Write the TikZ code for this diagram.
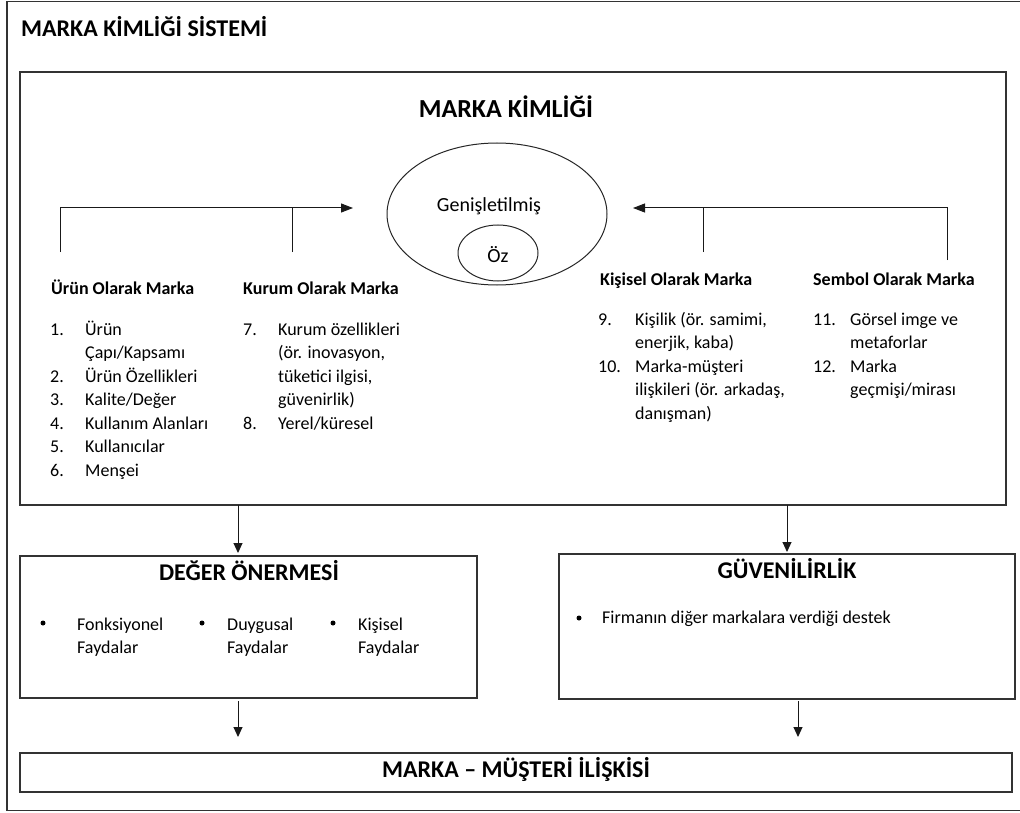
\documentclass[tikz,border=0pt]{standalone}
\usepackage{fontspec}
\setmainfont{Carlito}
\usetikzlibrary{arrows.meta,shapes.geometric}
\begin{document}
\begin{tikzpicture}[x=1pt,y=-1pt,
  panel/.style={draw=black!80, line width=1.5pt, inner sep=0pt, outer sep=0pt, anchor=north west},
  conn/.style={draw=black!90, line width=1pt},
  toparr/.style={conn, -{Triangle[length=12pt,width=9pt]}},
  downarr/.style={conn, -{Triangle[length=10pt,width=9pt]}},
  oval/.style={draw=black!85, line width=1pt, ellipse, inner sep=0pt},
  bigtxt/.style={font=\bfseries\fontsize{24}{28}\selectfont, inner sep=0pt, anchor=base},
  headtxt/.style={font=\bfseries\fontsize{18}{22}\selectfont, inner sep=0pt, anchor=base west},
  bodytxt/.style={font=\fontsize{18}{23.5}\selectfont, inner sep=0pt, anchor=base west},
  dot/.style={circle, fill=black, inner sep=0pt, minimum size=5pt}
]
\clip (0,0) rectangle (1020,813);

% outer frame and the five boxes
\node[panel, minimum width=1040pt, minimum height=809pt] (frame) at (7,1.5) {};
\node[panel, minimum width=986pt, minimum height=433pt] (ident) at (20,72) {};
\node[panel, minimum width=457pt, minimum height=142pt] (deger) at (20,556) {};
\node[panel, minimum width=456pt, minimum height=145pt] (guven) at (559,554) {};
\node[panel, minimum width=992pt, minimum height=39pt] (iliski) at (20,753) {};

% titles
\node[bigtxt, anchor=base west] (title) at (21,37) {MARKA KİMLİĞİ SİSTEMİ};
\node[bigtxt, font=\bfseries\fontsize{26}{30}\selectfont] (idtitle) at (506,118) {MARKA KİMLİĞİ};
\node[bigtxt] (degertitle) at (249,580) {DEĞER ÖNERMESİ};
\node[bigtxt] (guventitle) at (787,578) {GÜVENİLİRLİK};
\node[bigtxt] (iliskititle) at (516,777) {MARKA – MÜŞTERİ İLİŞKİSİ};

% core and extended identity
\node[oval, minimum width=220pt, minimum height=142pt] (genis) at (497,214) {};
\node[oval, minimum width=80pt, minimum height=56pt] (oz) at (498,253) {};
\node[font=\fontsize{20}{24}\selectfont, inner sep=0pt, anchor=base] (genistxt) at (489,212) {Genişletilmiş};
\node[font=\fontsize{20}{24}\selectfont, inner sep=0pt, anchor=base] (oztxt) at (498,262) {Öz};

% four perspectives
\node[headtxt] (urunH) at (51,294) {Ürün Olarak Marka};
\node[headtxt] (kurumH) at (243,294) {Kurum Olarak Marka};
\node[headtxt] (kisiH) at (600,285) {Kişisel Olarak Marka};
\node[headtxt] (sembolH) at (813,285) {Sembol Olarak Marka};

\node[bodytxt] (urunL) at (50,335) {\begin{tabular}[t]{@{}p{35pt}@{}l@{}}
1. & Ürün\\
   & Çapı/Kapsamı\\
2. & Ürün Özellikleri\\
3. & Kalite/Değer\\
4. & Kullanım Alanları\\
5. & Kullanıcılar\\
6. & Menşei
\end{tabular}};
\node[bodytxt] (kurumL) at (243,335) {\begin{tabular}[t]{@{}p{35pt}@{}l@{}}
7. & Kurum özellikleri\\
   & (ör. inovasyon,\\
   & tüketici ilgisi,\\
   & güvenirlik)\\
8. & Yerel/küresel
\end{tabular}};
\node[bodytxt] (kisiL) at (598,325) {\begin{tabular}[t]{@{}p{37pt}@{}l@{}}
9.  & Kişilik (ör. samimi,\\
    & enerjik, kaba)\\
10. & Marka-müşteri\\
    & ilişkileri (ör. arkadaş,\\
    & danışman)
\end{tabular}};
\node[bodytxt] (sembolL) at (813,325) {\begin{tabular}[t]{@{}p{37pt}@{}l@{}}
11. & Görsel imge ve\\
    & metaforlar\\
12. & Marka\\
    & geçmişi/mirası
\end{tabular}};

% connectors feeding the identity ovals
\coordinate (urunS) at (60,252);
\coordinate (kurumS) at (292,252);
\coordinate (leftT) at (353,208);
\coordinate (kisiS) at (703,252);
\coordinate (sembolS) at (947,260);
\coordinate (rightT) at (633,208);
\draw[toparr] (urunS) |- (leftT);
\draw[conn] (kurumS) -- (kurumS |- leftT);
\draw[toparr] (sembolS) |- (rightT);
\draw[conn] (kisiS) -- (kisiS |- rightT);

% value proposition items
\node[dot] (b1) at (43,623) {};
\node[dot] (b2) at (202,623) {};
\node[dot] (b3) at (333,623) {};
\node[bodytxt, font=\fontsize{18}{23}\selectfont] (fonk) at (77,630) {\begin{tabular}[t]{@{}l@{}}Fonksiyonel\\Faydalar\end{tabular}};
\node[bodytxt, font=\fontsize{18}{23}\selectfont] (duyg) at (227,630) {\begin{tabular}[t]{@{}l@{}}Duygusal\\Faydalar\end{tabular}};
\node[bodytxt, font=\fontsize{18}{23}\selectfont] (kisis) at (358,630) {\begin{tabular}[t]{@{}l@{}}Kişisel\\Faydalar\end{tabular}};

% credibility item
\node[dot] (b4) at (579,618) {};
\node[bodytxt] (destek) at (602,623) {Firmanın diğer markalara verdiği destek};

% flow downwards
\coordinate (xL) at (238,0);
\coordinate (xR) at (787,0);
\coordinate (xR2) at (798,0);
\draw[downarr, shorten >=3pt] (ident.south -| xL) -- (deger.north -| xL);
\draw[downarr, shorten >=2pt] (ident.south -| xR) -- (guven.north -| xR);
\draw[downarr, shorten <=3pt, shorten >=16pt] (deger.south -| xL) -- (iliski.north -| xL);
\draw[downarr, shorten <=2pt, shorten >=16pt] (guven.south -| xR2) -- (iliski.north -| xR2);
\end{tikzpicture}
\end{document}
